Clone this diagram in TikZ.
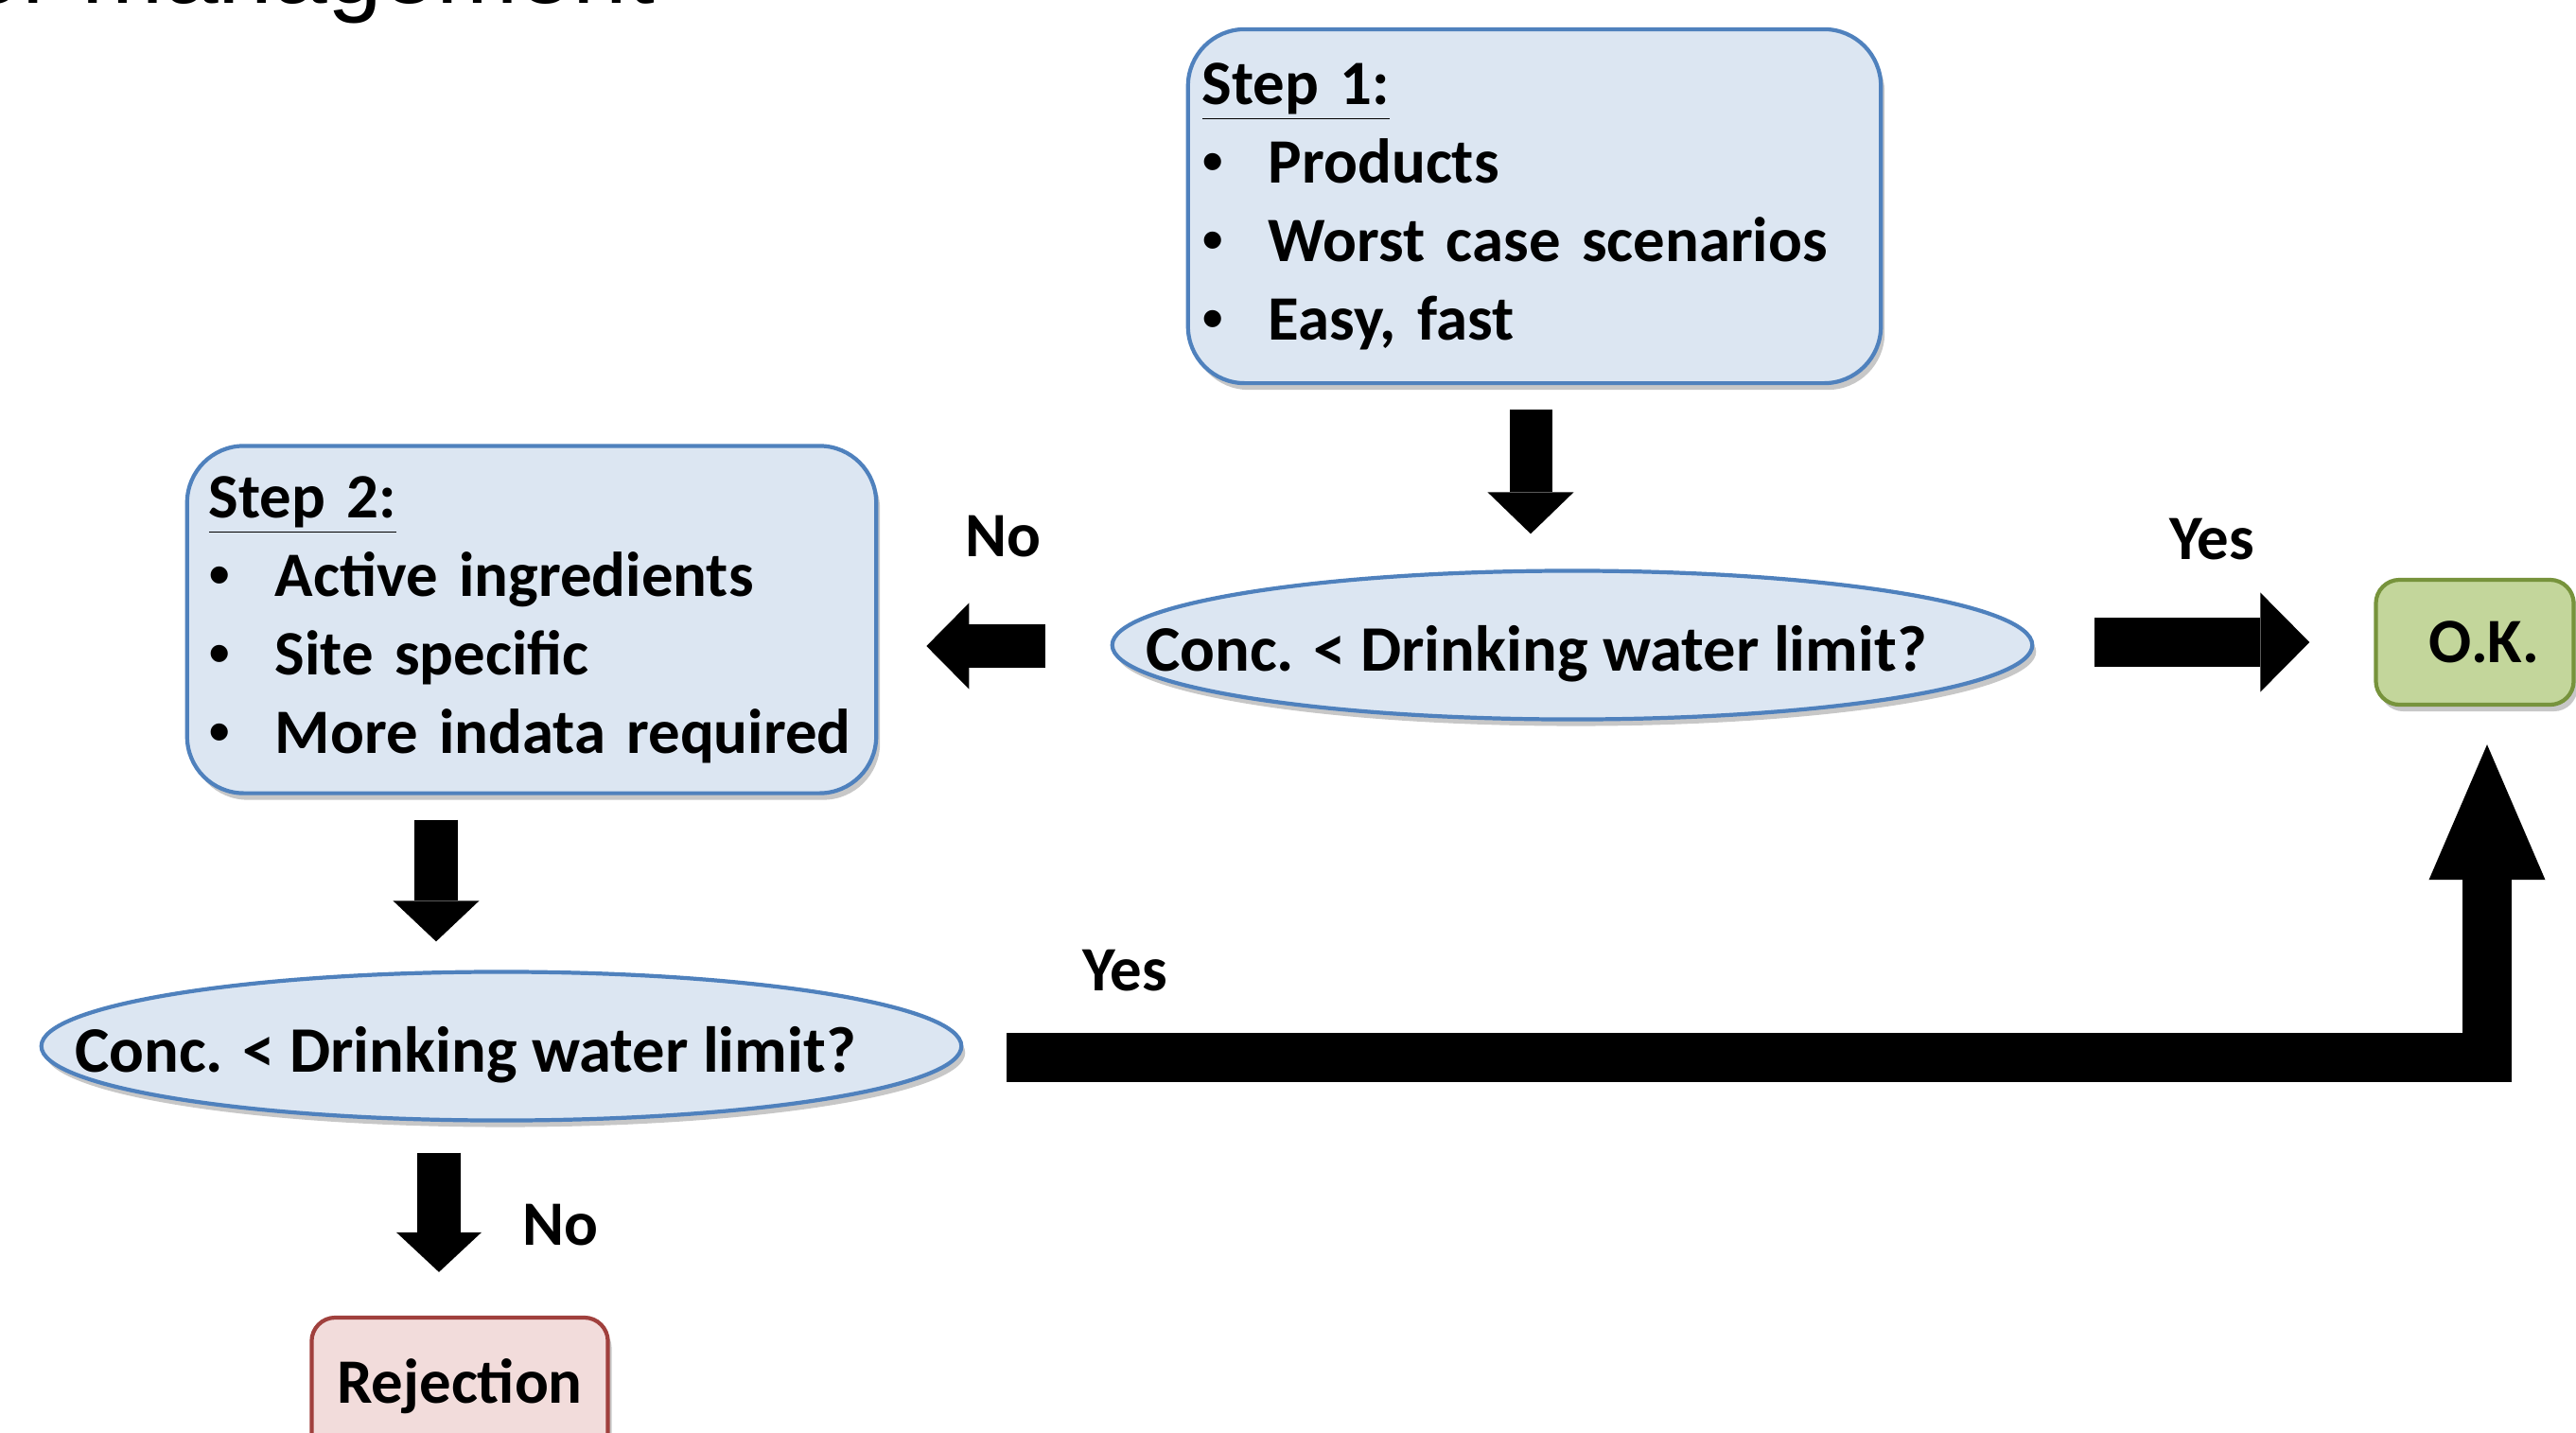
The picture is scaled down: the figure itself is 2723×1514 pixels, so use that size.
\documentclass[tikz,border=0pt]{standalone}
\usepackage{fontspec}
\setmainfont{Carlito}
\newfontfamily\titlefont{Liberation Sans}
\usetikzlibrary{arrows.meta,positioning,calc,shapes.geometric,shadows}

\definecolor{boxblue}{HTML}{DCE6F2}
\definecolor{lineblue}{HTML}{4F81BD}
\definecolor{okfill}{HTML}{C3D69B}
\definecolor{okline}{HTML}{77933C}
\definecolor{rejfill}{HTML}{F2DCDB}
\definecolor{rejline}{HTML}{A0403D}

\newcommand{\bul}{\makebox[0.70cm][l]{\titlefont\mdseries •}}
\newcommand{\question}{\makebox[0pt]{\raisebox{-0.27cm}[0pt][0pt]{\fontsize{19.5}{23.6}\selectfont Conc. < Drinking water limit?}\hspace*{0.76cm}}}

\tikzset{
  softshadow/.style={drop shadow={shadow xshift=0.04cm,shadow yshift=-0.07cm,opacity=0.22,fill=black}},
  stepbox/.style={draw=lineblue,line width=1.2pt,fill=boxblue,rounded corners=0.6cm,align=left,softshadow},
  ellbox/.style={ellipse,draw=lineblue,line width=1.2pt,fill=boxblue,minimum width=9.72cm,minimum height=1.57cm,inner sep=0pt,softshadow},
  endbox/.style={draw=#1line,line width=1.2pt,fill=#1fill,rounded corners=0.25cm,inner sep=0pt,softshadow},
  blockarrow/.style n args={3}{draw,line width=#1,line cap=butt,line join=miter,-{Triangle[width=#2,length=#3,line width=0pt]}}
}

\begin{document}
\begin{tikzpicture}[x=0.01cm,y=-0.01cm,every node/.style={font=\bfseries\fontsize{19}{23.6}\selectfont}]
\useasboundingbox (0,0) rectangle (2723,1514);
\clip (0,0) rectangle (2723,1514);

% title line, cut off by the top edge
\node[font=\titlefont\fontsize{29.5}{36}\selectfont,anchor=base east,inner sep=0pt] (title) at (693,3) {for management};

% boxes
\node[stepbox,text width=7.02cm,inner xsep=0.15cm,minimum height=3.74cm] (step1) at (1622,218)
  {\underline{Step 1:}\\\bul Products\\\bul Worst case scenarios\\\bul Easy, fast};
\node[stepbox,text width=6.82cm,inner xsep=0.23cm,minimum height=3.67cm] (step2) at (562,655)
  {\underline{Step 2:}\\\bul Active ingredients\\\bul Site specific\\\bul More indata required};
\node[ellbox] (ell1) at (1662,682) {\question};
\node[ellbox] (ell2) at (530,1106) {\question};
\node[endbox=ok,minimum width=2.09cm,minimum height=1.32cm] (ok) at (2616,679) {\hspace*{0.2cm}O.K.};
\node[endbox=rej,minimum width=3.13cm,minimum height=1.46cm] (rej) at (486,1466) {Rejection};

% arrows
\draw[blockarrow={0.45cm}{0.91cm}{0.44cm}] ($(step1.south)+(-4,26)$) -- ($(ell1.north)+(-44,-37)$);
\draw[blockarrow={0.46cm}{0.91cm}{0.45cm}] ($(ell1.west)+(-69,1)$) -- ($(step2.east)+(51,28)$);
\draw[blockarrow={0.52cm}{1.05cm}{0.52cm}] ($(ell1.east)+(64,-3)$) -- ($(ok.west)+(-68,0)$);
\draw[blockarrow={0.45cm}{0.91cm}{0.43cm}] ($(step2.south)+(-101,26)$) -- ($(ell2.north)+(-69,-30)$);
\draw[blockarrow={0.52cm}{1.23cm}{1.43cm}] ($(ell2.east)+(46,12)$) -| ($(ok.south)+(13,40)$);
\draw[blockarrow={0.45cm}{0.90cm}{0.42cm}] ($(ell2.south)+(-66,32)$) -- ($(rej.north)+(-22,-46)$);

% labels
\node (no1) at (1060,567) {No};
\node (yes1) at (2338,570) {Yes};
\node (yes2) at (1189,1026) {Yes};
\node (no2) at (592,1295) {No};
\end{tikzpicture}
\end{document}
